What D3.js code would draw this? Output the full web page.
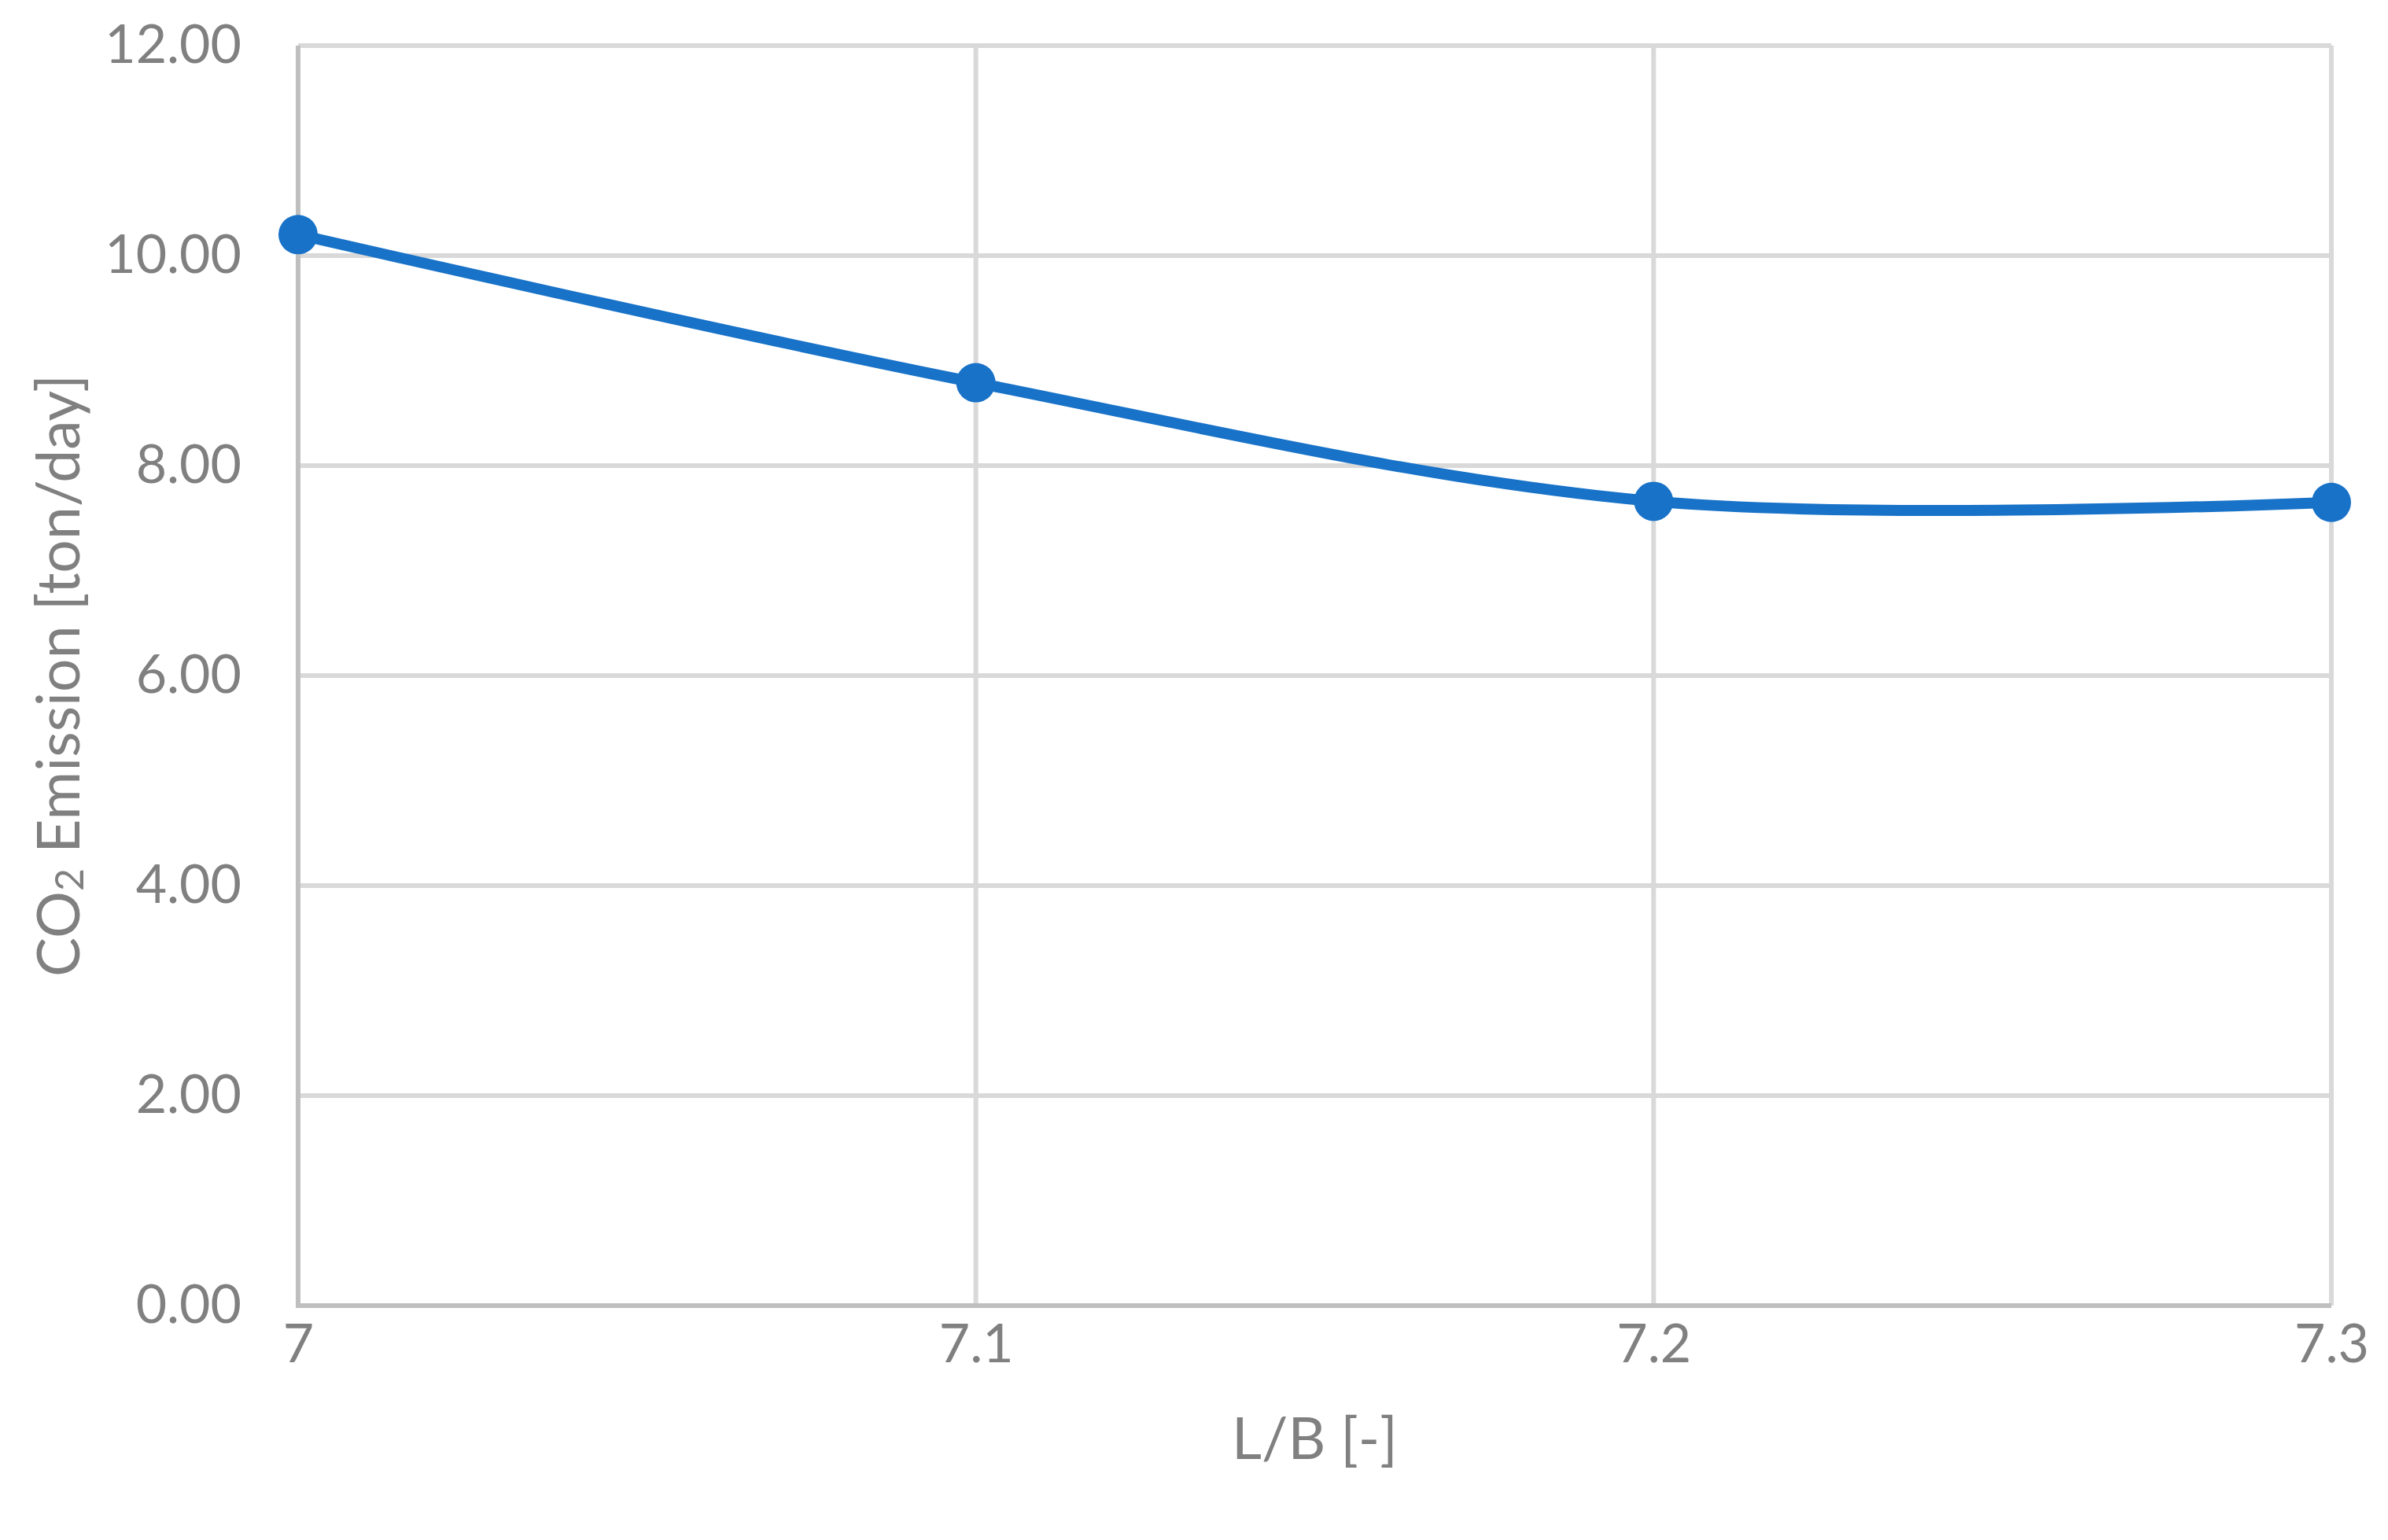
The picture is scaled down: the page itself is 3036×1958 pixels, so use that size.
<!DOCTYPE html>
<html>
<head>
    <title>CO2 emission vs L/B</title>
    <script src="https://d3js.org/d3.v7.min.js"></script>
    <style>
        body { margin: 0; background: #fff; }
        text { font-family: Lato, "Open Sans", sans-serif; fill: #808080; }
    </style>
</head>
<body>
    <div id="chart"></div>
    <script>
        // data
        const lbRatio = [7, 7.1, 7.2, 7.3];
        const co2Emission = [10.20, 8.79, 7.66, 7.65];
        const xTicks = [7, 7.1, 7.2, 7.3];
        const yTicks = [0, 2, 4, 6, 8, 10, 12];

        const width = 3036, height = 1958;
        const margin = { top: 58, right: 72, bottom: 298, left: 379 };

        const svg = d3.select("#chart").append("svg")
            .attr("width", width)
            .attr("height", height)
            .style("background", "#fff");

        const x = d3.scaleLinear()
            .domain([7, 7.3])
            .range([margin.left, width - margin.right]);
        const y = d3.scaleLinear()
            .domain([0, 12])
            .range([height - margin.bottom, margin.top]);

        // grid
        svg.append("g").selectAll("line.h")
            .data(yTicks.filter(d => d > 0))
            .enter().append("line")
            .attr("x1", x(7)).attr("x2", x(7.3))
            .attr("y1", d => y(d)).attr("y2", d => y(d))
            .attr("stroke", "#d9d9d9").attr("stroke-width", 6);
        svg.append("g").selectAll("line.v")
            .data(xTicks.filter(d => d > 7))
            .enter().append("line")
            .attr("x1", d => x(d)).attr("x2", d => x(d))
            .attr("y1", y(12)).attr("y2", y(0))
            .attr("stroke", "#d9d9d9").attr("stroke-width", 6);

        // axis lines
        svg.append("line")
            .attr("x1", x(7)).attr("x2", x(7.3))
            .attr("y1", y(0)).attr("y2", y(0))
            .attr("stroke", "#bfbfbf").attr("stroke-width", 6);
        svg.append("line")
            .attr("x1", x(7)).attr("x2", x(7))
            .attr("y1", y(12)).attr("y2", y(0) + 3)
            .attr("stroke", "#bfbfbf").attr("stroke-width", 6);

        // tick labels via d3 axes, with domain and ticks hidden
        const yAxis = svg.append("g")
            .attr("transform", "translate(" + (x(7) - 72) + ",0)")
            .call(d3.axisLeft(y).tickValues(yTicks).tickFormat(d3.format(".2f")).tickSize(0).tickPadding(0));
        const xAxis = svg.append("g")
            .attr("transform", "translate(0," + (y(0) + 24) + ")")
            .call(d3.axisBottom(x).tickValues(xTicks).tickFormat(d => d === 7 ? "7" : d3.format(".1f")(d)).tickSize(0).tickPadding(0));
        [xAxis, yAxis].forEach(a => {
            a.select(".domain").remove();
            a.selectAll("text")
                .style("font-family", "Lato, 'Open Sans', sans-serif")
                .attr("font-size", 68)
                .attr("fill", "#808080");
        });

        // series
        const line = d3.line()
            .x((d, i) => x(lbRatio[i]))
            .y(d => y(d))
            .curve(d3.curveCardinal.tension(0));
        svg.append("path")
            .datum(co2Emission)
            .attr("d", line)
            .attr("fill", "none")
            .attr("stroke", "#1872c8")
            .attr("stroke-width", 14)
            .attr("stroke-linejoin", "round");
        svg.append("g").selectAll("circle")
            .data(co2Emission)
            .enter().append("circle")
            .attr("cx", (d, i) => x(lbRatio[i]))
            .attr("cy", d => y(d))
            .attr("r", 25)
            .attr("fill", "#1872c8");

        // axis titles
        svg.append("text")
            .attr("x", (x(7) + x(7.3)) / 2)
            .attr("y", 1826)
            .attr("text-anchor", "middle")
            .attr("dominant-baseline", "central")
            .attr("font-size", 74)
            .text("L/B [-]");

        const yTitle = svg.append("text")
            .attr("transform", "translate(72," + (y(0) + y(12)) / 2 + ") rotate(-90)")
            .attr("text-anchor", "middle")
            .attr("dominant-baseline", "central")
            .attr("font-size", 75);
        yTitle.append("tspan").text("CO");
        yTitle.append("tspan").attr("font-size", 50).attr("dy", 15).text("2");
        yTitle.append("tspan").attr("dy", -15).text(" Emission [ton/day]");
    </script>
</body>
</html>
